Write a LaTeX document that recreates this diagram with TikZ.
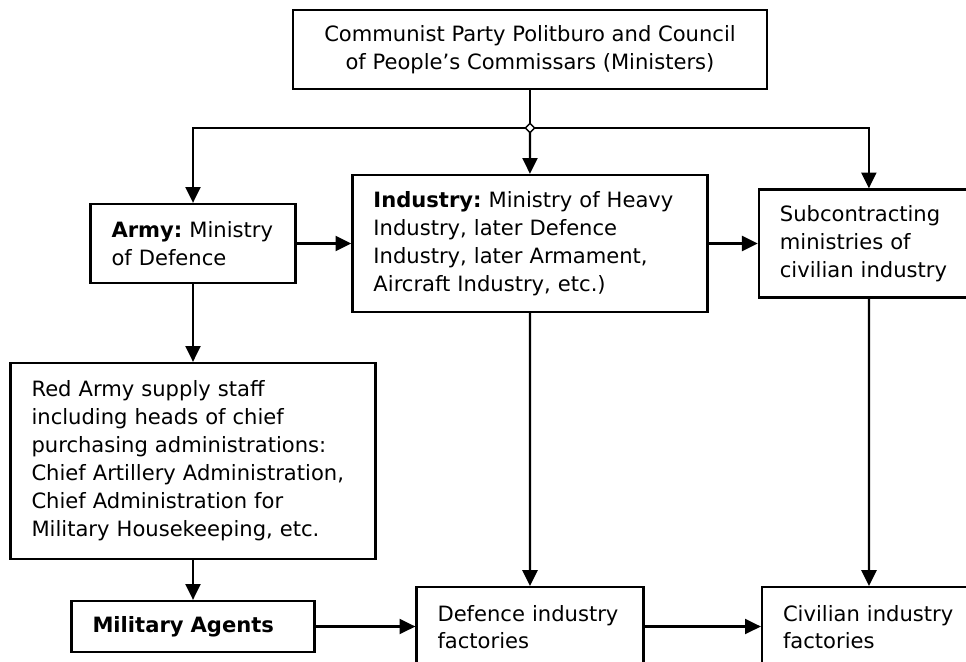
\documentclass[tikz,border=0pt]{standalone}
\usepackage{fontspec}
\setmainfont{DejaVu Sans}
\usepackage{tikz}
\usetikzlibrary{calc,arrows.meta,positioning,shapes.geometric}
\frenchspacing

\begin{document}
\begin{tikzpicture}[x=0.02cm, y=-0.02cm, >={Triangle[length=9pt,width=8.5pt]}, line width=1.3pt,
    every node/.style={font=\fontsize{12}{15.9}\selectfont}]
    % Define styles for blocks and the junction mark
    \tikzstyle{block} = [draw, fill=white, rectangle, align=left, inner xsep=0.42cm, inner ysep=0pt]
    \tikzstyle{topblock} = [draw, fill=white, rectangle, align=center, inner sep=0pt]
    \tikzstyle{junction} = [draw, fill=white, diamond, inner sep=0pt, minimum size=5.5pt, line width=0.8pt]

    \useasboundingbox (0,0) rectangle (966,662);
    \clip (0,0) rectangle (966,662);

    % Nodes placement
    \node [topblock, minimum width=9.48cm, minimum height=1.58cm] (party) at (530,49.5)
        {Communist Party Politburo and Council\\of People’s Commissars (Ministers)};
    \coordinate (split) at (530,128);
    \node [block, text width=3.26cm, minimum height=1.58cm] (army) at (193,243.5)
        {\textbf{Army:} Ministry\\of Defence};
    \node [block, text width=6.26cm, minimum height=2.74cm, right of=army, node distance=6.74cm] (industry)
        {\textbf{Industry:} Ministry of Heavy\\Industry, later Defence\\Industry, later Armament,\\Aircraft Industry, etc.)};
    \node [block, text width=3.56cm, minimum height=2.16cm, right of=industry, node distance=6.78cm] (subcontract)
        {Subcontracting\\ministries of\\civilian industry};
    \node [block, text width=6.46cm, minimum height=3.92cm] (supplystaff) at (193,461)
        {Red Army supply staff\\including heads of chief\\purchasing administrations:\\Chief Artillery Administration,\\Chief Administration for\\Military Housekeeping, etc.};
    \node [block, text width=4.02cm, minimum height=1.02cm] (agents) at (193,626.5)
        {\textbf{Military Agents}};
    \node [block, text width=3.7cm, minimum height=1.6cm, anchor=north] (defencefact) at (530,586)
        {Defence industry\\factories};
    \node [block, text width=3.44cm, minimum height=1.6cm, anchor=north] (civilfact) at (869,586)
        {Civilian industry\\factories};

    % Draw edges
    \draw (party) -- (split);
    \draw[->] (split) -| (army);
    \draw[->] (split) -- (industry);
    \draw[->] (split) -| (subcontract);
    \draw[->] (army) -- (industry);
    \draw[->] (industry.east |- army.east) -- (subcontract.west |- army.east);
    \draw[->] (army) -- (supplystaff);
    \draw[->] (supplystaff) -- (agents);
    \draw[->] (industry) -- (defencefact);
    \draw[->] (subcontract) -- (civilfact);
    \draw[->] (agents.east) -- (defencefact.west |- agents.east);
    \draw[->] (defencefact.east |- agents.east) -- (civilfact.west |- agents.east);

    % Junction mark on the top branch
    \node [junction] (splitmark) at (split) {};
\end{tikzpicture}
\end{document}
